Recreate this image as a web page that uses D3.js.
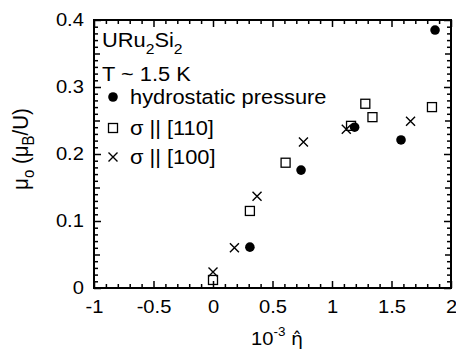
<!DOCTYPE html>
<html><head><meta charset="utf-8">
<script src="https://cdn.jsdelivr.net/npm/d3@7"></script>
<style>body{margin:0;background:#fff}text{font-family:"Liberation Sans",Arial,sans-serif;fill:#000}</style>
</head><body><svg id="c" width="456" height="350"></svg>
<script>
const hydroX=[0.31,0.74,1.19,1.58,1.866];
const hydroY=[0.061,0.176,0.240,0.221,0.385];
const s110X=[0,0.31,0.61,1.16,1.28,1.34,1.84];
const s110Y=[0.012,0.115,0.187,0.242,0.275,0.255,0.270];
const s100X=[0,0.18,0.37,0.76,1.12,1.66];
const s100Y=[0.024,0.060,0.137,0.218,0.237,0.249];
const xTicks=[-1,-0.5,0,0.5,1,1.5,2];
const xTickLabels=["-1","-0.5","0","0.5","1","1.5","2"];
const yTicks=[0,0.1,0.2,0.3,0.4];
const yTickLabels=["0","0.1","0.2","0.3","0.4"];
const legendLabels=["hydrostatic pressure","σ || [110]","σ || [100]"];

const SX=1.12, FS=18, LFS=19.5;
const svg=d3.select("#c");
const L=94,R=451,T=20,B=288;
const x=d3.scaleLinear().domain([-1,2]).range([L,R]);
const y=d3.scaleLinear().domain([0,0.4]).range([B,T]);

const xMinor=d3.range(-10,21).map(d=>d/10).filter(d=>Math.abs(d*2-Math.round(d*2))>1e-6);
const yMinor=d3.range(0,41).map(d=>d/100).filter(d=>Math.abs(d*20-Math.round(d*20))>1e-6);
const yMid=[0.05,0.15,0.25,0.35];

function ax(gen,tr){const g=svg.append("g").attr("transform",tr).call(gen);g.select(".domain").remove();g.selectAll("line").attr("stroke","#000").attr("stroke-width",1.5);return g;}
const xb=ax(d3.axisBottom(x).tickValues(xTicks).tickFormat((d,i)=>xTickLabels[i]).tickSizeInner(-7).tickSizeOuter(0).tickPadding(12),`translate(0,${B})`);
ax(d3.axisBottom(x).tickValues(xMinor).tickFormat("").tickSizeInner(-4).tickSizeOuter(0),`translate(0,${B})`);
ax(d3.axisTop(x).tickValues(xTicks).tickFormat("").tickSizeInner(-7).tickSizeOuter(0),`translate(0,${T})`);
ax(d3.axisTop(x).tickValues(xMinor).tickFormat("").tickSizeInner(-4).tickSizeOuter(0),`translate(0,${T})`);
const yl=ax(d3.axisLeft(y).tickValues(yTicks).tickFormat((d,i)=>yTickLabels[i]).tickSizeInner(-7).tickSizeOuter(0).tickPadding(9),`translate(${L},0)`);
ax(d3.axisLeft(y).tickValues(yMinor).tickFormat("").tickSizeInner(-4).tickSizeOuter(0),`translate(${L},0)`);
ax(d3.axisLeft(y).tickValues(yMid).tickFormat("").tickSizeInner(-6).tickSizeOuter(0),`translate(${L},0)`);
ax(d3.axisRight(y).tickValues(yTicks).tickFormat("").tickSizeInner(-7).tickSizeOuter(0),`translate(${R},0)`);
ax(d3.axisRight(y).tickValues(yMinor).tickFormat("").tickSizeInner(-4).tickSizeOuter(0),`translate(${R},0)`);
ax(d3.axisRight(y).tickValues(yMid).tickFormat("").tickSizeInner(-6).tickSizeOuter(0),`translate(${R},0)`);
[xb,yl].forEach(g=>g.selectAll("text").attr("font-size",FS).attr("font-family","Liberation Sans").attr("fill","#000").attr("transform",`scale(${SX},1)`));

svg.append("rect").attr("x",L).attr("y",T).attr("width",R-L).attr("height",B-T).attr("fill","none").attr("stroke","#000").attr("stroke-width",2);

function square(g,cx,cy){g.append("rect").attr("x",cx-4.5).attr("y",cy-4.5).attr("width",9).attr("height",9).attr("fill","none").attr("stroke","#000").attr("stroke-width",1.3);}
function cross(g,cx,cy){const h=4.5;g.append("path").attr("d",`M${cx-h},${cy-h}L${cx+h},${cy+h}M${cx-h},${cy+h}L${cx+h},${cy-h}`).attr("stroke","#000").attr("stroke-width",1.4).attr("fill","none");}
function dot(g,cx,cy){g.append("circle").attr("cx",cx).attr("cy",cy).attr("r",4.8).attr("fill","#000");}
const mg=svg.append("g");
s110X.forEach((v,i)=>square(mg,x(v),y(s110Y[i])));
hydroX.forEach((v,i)=>dot(mg,x(v),y(hydroY[i])));
s100X.forEach((v,i)=>cross(mg,x(v),y(s100Y[i])));

function txt(px,py,fs,anchor){return svg.append("text").attr("transform",`translate(${px},${py}) scale(${SX},1)`).attr("font-size",fs).attr("text-anchor",anchor||"start");}
const t1=txt(102,47,LFS);
t1.append("tspan").text("URu");
t1.append("tspan").attr("font-size",14).attr("dy",7).text("2");
t1.append("tspan").attr("dy",-7).text("Si");
t1.append("tspan").attr("font-size",14).attr("dy",7).text("2");
txt(102,81,LFS).text("T ~ 1.5 K");
const ly=[97,128,157];
dot(svg,113,ly[0]);square(svg,113,ly[1]);cross(svg,113,ly[2]);
legendLabels.forEach((s,i)=>txt(130,ly[i]+7,LFS).text(s));
const xt=txt(251,345,FS);
xt.append("tspan").text("10");
xt.append("tspan").attr("font-size",12).attr("dy",-9).text("-3");
xt.append("tspan").attr("dy",9).text(" ");
xt.append("tspan").attr("font-family","DejaVu Sans").attr("font-size",17).text("η\u0302");
const yt=svg.append("text").attr("transform",`translate(28,149) rotate(-90) scale(1,${SX})`).attr("font-size",20.5).attr("text-anchor","middle");
yt.append("tspan").text("μ");
yt.append("tspan").attr("font-size",15).attr("dy",5).text("o");
yt.append("tspan").attr("dy",-5).text(" (μ");
yt.append("tspan").attr("font-size",15).attr("dy",5).text("B");
yt.append("tspan").attr("dy",-5).text("/U)");
</script></body></html>
